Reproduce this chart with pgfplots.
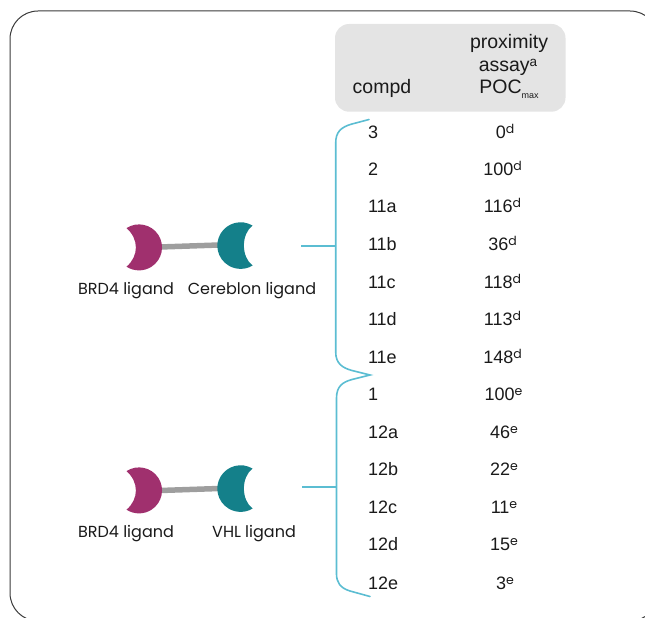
\documentclass[border=0pt]{standalone}
\usepackage{fontspec}
\setmainfont{Poppins}
\newfontfamily\tabfont{Liberation Sans}
\newfontfamily\supfont{Poppins}
\usepackage{pgfplots}
\pgfplotsset{compat=1.18}
\definecolor{frame}{HTML}{3A3A3A}
\definecolor{headbox}{HTML}{E4E4E4}
\definecolor{brace}{HTML}{5BBDD2}
\definecolor{brd}{HTML}{A0306E}
\definecolor{lig}{HTML}{14808A}
\definecolor{linker}{HTML}{9E9E9E}
\definecolor{ink}{HTML}{1A1A1A}
\newcommand{\su}[1]{\raisebox{0.5ex}{\fontsize{12.5bp}{13bp}\supfont #1}}
\newcommand{\sua}[1]{\raisebox{0.5ex}{\fontsize{13.5bp}{14bp}\tabfont #1}}
\newcommand{\sm}[1]{\raisebox{-0.5ex}{\fontsize{9bp}{10bp}\selectfont #1}}
\newcommand{\crescents}[1]{%
  \fill[brd] (axis cs:126.5,{228.1+#1}) arc[start angle=123,end angle=-123,radius=23bp]
     .. controls (axis cs:139,{256+#1}) and (axis cs:139,{239+#1}) .. cycle;
  \fill[lig] (axis cs:252.6,{225.6+#1}) arc[start angle=59,end angle=301,radius=23.3bp]
     .. controls (axis cs:241,{257+#1}) and (axis cs:241,{234+#1}) .. cycle;
}
\begin{document}
\begin{tikzpicture}
\begin{axis}[
  scale only axis, width=645bp, height=618bp,
  xmin=0, xmax=645, ymin=0, ymax=618, y dir=reverse,
  hide axis, clip=true,
  font=\fontsize{16bp}{18bp}\selectfont\color{ink},
  point meta=explicit symbolic,
  nodes near coords,
  nodes near coords style={anchor=base, inner sep=0pt, outer sep=0pt, text=ink},
]
% frame
\draw[frame, line width=1bp, rounded corners=28bp] (axis cs:10,11) rectangle (axis cs:658,621);
% header box
\fill[headbox, rounded corners=14bp] (axis cs:335,24) rectangle (axis cs:565.5,111.7);
% linkers
\draw[linker, line width=5.5bp] (axis cs:160,247) -- (axis cs:219,245);
\draw[linker, line width=5.5bp] (axis cs:160,490.5) -- (axis cs:219,488.5);
\crescents{0}
\crescents{243}
% braces
\draw[brace, line width=1.6bp, line cap=round]
  (axis cs:369,119.5) -- (axis cs:352,124) .. controls (axis cs:341,127) and (axis cs:335.7,132) .. (axis cs:335.7,143)
  -- (axis cs:335.7,352) .. controls (axis cs:335.7,364) and (axis cs:343,368) .. (axis cs:352,370.5)
  -- (axis cs:370,375) -- (axis cs:352,379.5)
  .. controls (axis cs:343,382) and (axis cs:336.5,386) .. (axis cs:336.5,398)
  -- (axis cs:336.5,574) .. controls (axis cs:336.5,582) and (axis cs:340,588) .. (axis cs:350,591)
  -- (axis cs:370,596.5);
\draw[brace, line width=1.6bp] (axis cs:301,246) -- (axis cs:335.7,246);
\draw[brace, line width=1.6bp] (axis cs:302,487) -- (axis cs:336.5,487);
% ligand labels
\addplot[draw=none, mark=none] coordinates {
  (126,294) [BRD4 ligand]
  (252,294) [Cereblon ligand]
  (126,537) [BRD4 ligand]
  (254,537) [VHL ligand]
};
% header
\addplot[draw=none, mark=none, nodes near coords style={font=\fontsize{19.5bp}{21bp}\tabfont}] coordinates {
  (509,49) [proximity]
  (508,71.5) [assay\sua{a}]
  (509,93.5) [POC\sm{max}]
  (382,93.5) [compd]
};
% compound column
\addplot[draw=none, mark=none, nodes near coords style={anchor=base west, font=\fontsize{18bp}{20bp}\tabfont}] coordinates {
  (368,138) [3]
  (368,175.5) [2]
  (368,212.5) [11a]
  (368,250.5) [11b]
  (368,288.5) [11c]
  (368,325.5) [11d]
  (368,363.5) [11e]
  (368,400.5) [1]
  (368,438.5) [12a]
  (368,475.5) [12b]
  (368,513.5) [12c]
  (368,550.5) [12d]
  (368,589.5) [12e]
};
% POCmax column
\addplot[draw=none, mark=none, nodes near coords style={font=\fontsize{18bp}{20bp}\tabfont}] coordinates {
  (505,138) [0\su{d}]
  (502.5,175.5) [100\su{d}]
  (502.5,212.5) [116\su{d}]
  (502.5,250.5) [36\su{d}]
  (502.5,288.5) [118\su{d}]
  (502.5,325.5) [113\su{d}]
  (502.5,363.5) [148\su{d}]
  (503.5,400.5) [100\su{e}]
  (504,438.5) [46\su{e}]
  (504,475.5) [22\su{e}]
  (504,513.5) [11\su{e}]
  (504,550.5) [15\su{e}]
  (505,589.5) [3\su{e}]
};
\end{axis}
\pgfresetboundingbox
\useasboundingbox (current axis.south west) rectangle (current axis.north east);
\end{tikzpicture}
\end{document}
